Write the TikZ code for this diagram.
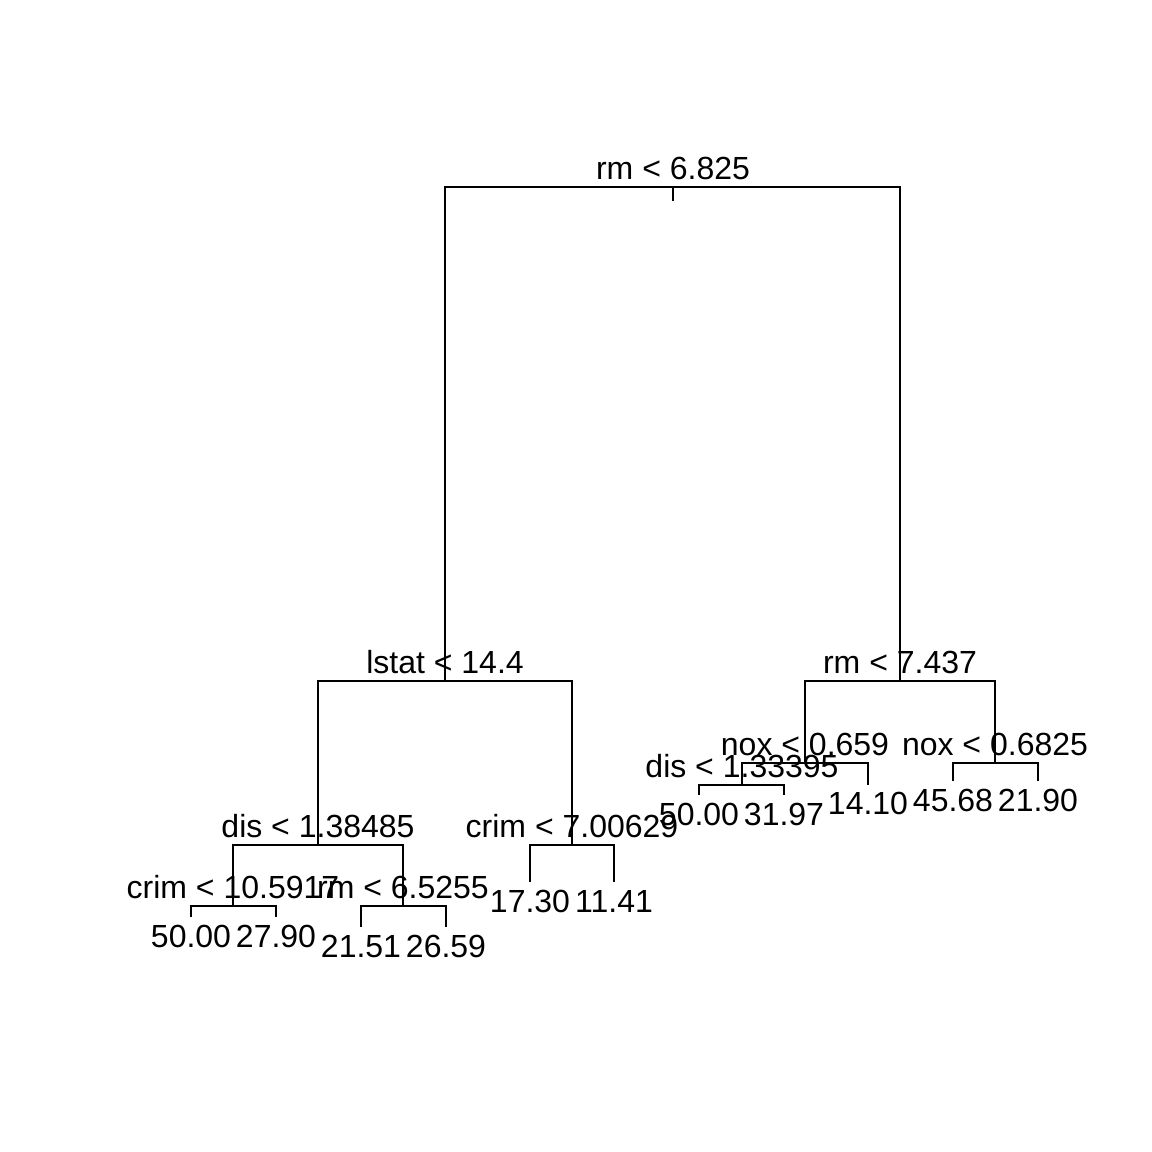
\documentclass[tikz,border=0pt]{standalone}
\usepackage{fontspec}
\setmainfont{Liberation Sans}
\usetikzlibrary{positioning}

\begin{document}
\begin{tikzpicture}[x=0.5pt, y=-0.5pt, line width=1pt,
    split/.style={anchor=base, inner sep=0pt, font=\fontsize{16}{19}\selectfont},
    leaf/.style={split}]
  \useasboundingbox (0,0) rectangle (1152,1152);
  % split points
  \coordinate (root) at (673,187);
  \coordinate (stem) at (673,201);
  \coordinate (lstat) at (445,681);
  \coordinate (rmb) at (900,681);
  \coordinate (disa) at (318,845);
  \coordinate (crima) at (572,845);
  \coordinate (crimb) at (233,906);
  \coordinate (rmc) at (403,906);
  \coordinate (noxa) at (805,763);
  \coordinate (noxb) at (995,763);
  \coordinate (disb) at (742,785);
  % leaves
  \coordinate (la) at (191,917);
  \coordinate (lb) at (276,917);
  \coordinate (lc) at (361,927);
  \coordinate (ld) at (446,927);
  \coordinate (le) at (530,882);
  \coordinate (lf) at (614,882);
  \coordinate (lg) at (699,795);
  \coordinate (lh) at (784,795);
  \coordinate (li) at (868,785);
  \coordinate (lj) at (953,781);
  \coordinate (lk) at (1038,781);

  \draw (root) -- (stem);
  \draw (lstat) |- (root) -| (rmb);
  \draw (disa) |- (lstat) -| (crima);
  \draw (noxa) |- (rmb) -| (noxb);
  \draw (crimb) |- (disa) -| (rmc);
  \draw (la) |- (crimb) -| (lb);
  \draw (lc) |- (rmc) -| (ld);
  \draw (le) |- (crima) -| (lf);
  \draw (disb) |- (noxa) -| (li);
  \draw (lg) |- (disb) -| (lh);
  \draw (lj) |- (noxb) -| (lk);

  % split labels
  \node[split] (troot) at (673,179) {rm < 6.825};
  \node[split] (tlstat) at (445,673) {lstat < 14.4};
  \node[split] (trmb) at (900,673) {rm < 7.437};
  \node[split] (tdisa) at (318,837) {dis < 1.38485};
  \node[split] (tcrima) at (572,837) {crim < 7.00629};
  \node[split] (tcrimb) at (233,898) {crim < 10.5917};
  \node[split] (trmc) at (403,898) {rm < 6.5255};
  \node[split] (tnoxa) at (805,755) {nox < 0.659};
  \node[split] (tnoxb) at (995,755) {nox < 0.6825};
  \node[split] (tdisb) at (742,777) {dis < 1.33395};

  % leaf values
  \node[leaf] (va) at (191,947) {50.00};
  \node[leaf] (vb) at (276,947) {27.90};
  \node[leaf] (vc) at (361,957) {21.51};
  \node[leaf] (vd) at (446,957) {26.59};
  \node[leaf] (ve) at (530,912) {17.30};
  \node[leaf] (vf) at (614,912) {11.41};
  \node[leaf] (vg) at (699,825) {50.00};
  \node[leaf] (vh) at (784,825) {31.97};
  \node[leaf] (vi) at (868,814) {14.10};
  \node[leaf] (vj) at (953,811) {45.68};
  \node[leaf] (vk) at (1038,811) {21.90};
\end{tikzpicture}
\end{document}
